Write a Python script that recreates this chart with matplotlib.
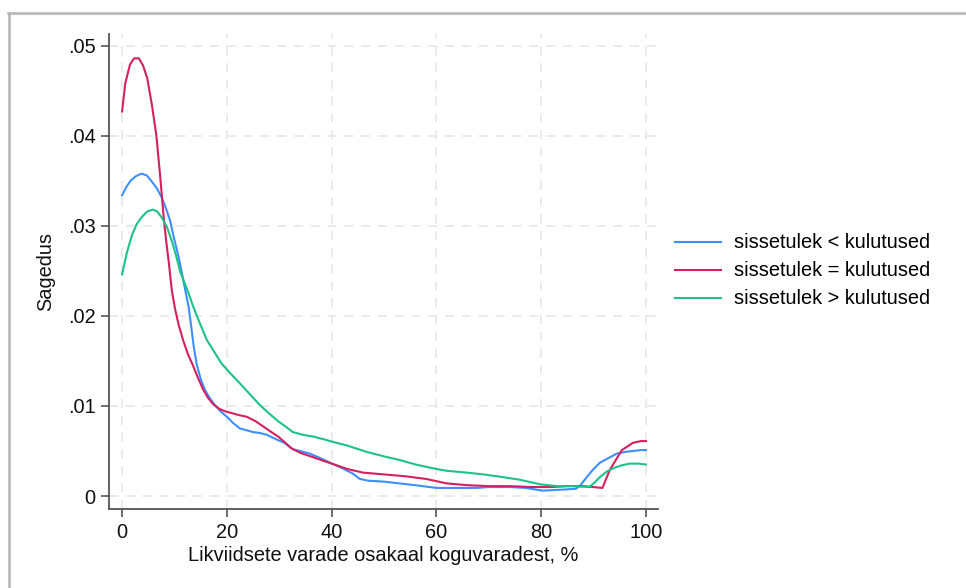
import matplotlib
matplotlib.use("Agg")
import matplotlib.pyplot as plt
from matplotlib.lines import Line2D

# ---- data ----
labels = ["sissetulek < kulutused", "sissetulek = kulutused", "sissetulek > kulutused"]

x_less = [0, 0.8, 1.6, 2.6, 3.7, 4.7, 5.7, 6.7, 7.6, 8.4,
          9.2, 9.8, 10.8, 11.4, 11.8, 12.7, 13.2, 13.7, 14.25, 15, 15.8,
          16.7, 17.7, 18.8, 20, 21.2, 22.5, 23.8, 25, 26.3, 27.6,
          29.8, 31, 32.6, 34, 35.9, 37.5, 39.7, 42, 44, 45.4,
          47, 50, 53, 56, 60, 64, 67.7, 70, 74, 77,
          80.3, 83.6, 86.6, 87.5, 88.7, 90, 91.2, 92.8, 94.4, 96,
          97.5, 99, 100]
y_less = [0.0334, 0.0343, 0.0350, 0.0355, 0.0358, 0.0356, 0.0349, 0.0341, 0.0331, 0.0319,
          0.0305, 0.0289, 0.0265, 0.0248, 0.0236, 0.0210, 0.0188, 0.0165, 0.0146, 0.0130, 0.0118,
          0.0109, 0.0101, 0.0094, 0.0088, 0.0081, 0.0075, 0.0073, 0.0071, 0.0070, 0.0068,
          0.0062, 0.0059, 0.0052, 0.0050, 0.0047, 0.0043, 0.0037, 0.0031, 0.0025, 0.0019,
          0.0017, 0.0016, 0.0014, 0.0012, 0.0009, 0.0009, 0.0009, 0.0010, 0.0010, 0.0009,
          0.0006, 0.0007, 0.0008, 0.0012, 0.0021, 0.0030, 0.0037, 0.0042, 0.0047, 0.0049,
          0.0050, 0.0051, 0.0051]

x_equal = [0, 0.6, 1.5, 2.3, 3.2, 4, 4.8, 5.7, 6.55, 7.3,
           7.95, 8.4, 8.9, 9.5, 10.1, 10.8, 11.7, 12.6, 13.6, 14.5,
           15.5, 16.4, 17.4, 18.5, 19.7, 21, 22.2, 23, 23.8, 25.5,
           27, 28.5, 29.8, 31, 32.3, 34, 36, 38, 40, 43,
           46, 50, 54, 58, 62, 66, 70, 74, 78, 82,
           85, 88, 91.7, 93.1, 95.4, 97.5, 99, 100]
y_equal = [0.0427, 0.0458, 0.0479, 0.0486, 0.0486, 0.0478, 0.0464, 0.0434, 0.0400, 0.0353,
           0.0309, 0.0284, 0.0260, 0.0228, 0.0208, 0.0190, 0.0172, 0.0157, 0.0144, 0.0131,
           0.0118, 0.0109, 0.0102, 0.0097, 0.0094, 0.0092, 0.0090, 0.0089, 0.0088, 0.0083,
           0.0077, 0.0071, 0.0066, 0.0060, 0.0053, 0.0048, 0.0044, 0.0040, 0.0036, 0.0030,
           0.0026, 0.0024, 0.0022, 0.0019, 0.0014, 0.0012, 0.0011, 0.0011, 0.0010, 0.0010,
           0.0011, 0.0011, 0.0009, 0.0029, 0.0051, 0.0059, 0.0061, 0.0061]

x_more = [0, 0.9, 1.9, 2.8, 3.8, 4.8, 5.85, 6.7, 7.6, 8.6,
          9.5, 10.3, 11.1, 11.7, 12.7, 13.6, 14.9, 16.2, 17.6, 19,
          20.7, 22.5, 24.4, 26.3, 28, 29.8, 31, 32.6, 34.5, 36.5,
          38.5, 40.3, 43, 46.7, 50, 53, 56, 60, 62, 65.8,
          69, 72.7, 76, 79.8, 83, 86, 89.2, 90.2, 91.2, 92.5,
          93.8, 95.3, 96.9, 98.5, 100]
y_more = [0.0246, 0.0270, 0.0290, 0.0302, 0.0310, 0.0316, 0.0318, 0.0316, 0.0309, 0.0298,
          0.0283, 0.0267, 0.0249, 0.0240, 0.0225, 0.0210, 0.0191, 0.0173, 0.0160, 0.0147,
          0.0136, 0.0125, 0.0113, 0.0101, 0.0092, 0.0083, 0.0078, 0.0071, 0.0068, 0.0066,
          0.0063, 0.0060, 0.0056, 0.0049, 0.0044, 0.0040, 0.0035, 0.0030, 0.0028, 0.0026,
          0.0024, 0.0021, 0.0018, 0.0013, 0.0011, 0.0011, 0.0010, 0.0015, 0.0021, 0.0027,
          0.0031, 0.0034, 0.0036, 0.0036, 0.0035]

x_ticks = [0, 20, 40, 60, 80, 100]
x_ticklabels = ["0", "20", "40", "60", "80", "100"]
y_ticks = [0, 0.01, 0.02, 0.03, 0.04, 0.05]
y_ticklabels = ["0", ".01", ".02", ".03", ".04", ".05"]

x_label = "Likviidsete varade osakaal koguvaradest, %"
y_label = "Sagedus"

colors = ["#3d8fff", "#d61f5f", "#1cc286"]

# ---- figure ----
plt.rcParams['font.family'] = ['Liberation Sans', 'DejaVu Sans']
FS = 14.4
W, H = 966, 588
fig = plt.figure(figsize=(W / 100, H / 100), dpi=100)
fig.patch.set_facecolor("white")

ax = fig.add_axes([109 / W, 1 - 509 / H, (658 - 109) / W, (509 - 34) / H])
for xs, ys, c, lab in zip([x_less, x_equal, x_more], [y_less, y_equal, y_more], colors, labels):
    ax.plot(xs, ys, color=c, lw=1.5, label=lab, solid_joinstyle="round")

ax.set_xlim(-2.5, 102.3)
ax.set_ylim(-0.00144, 0.0513)
ax.set_xticks(x_ticks)
ax.set_xticklabels(x_ticklabels)
ax.set_yticks(y_ticks)
ax.set_yticklabels(y_ticklabels)

for s in ["top", "right"]:
    ax.spines[s].set_visible(False)
for s in ["left", "bottom"]:
    ax.spines[s].set_color("#555555")
    ax.spines[s].set_linewidth(1.3)

ax.tick_params(axis="both", direction="out", length=6, width=1.2, color="#555555",
               labelsize=FS, labelcolor="#111111")
ax.tick_params(axis="y", pad=3.5)
ax.tick_params(axis="x", pad=4)
ax.grid(True, color="#e6e6e6", linestyle=(0, (6, 5)), linewidth=1.1)
ax.set_axisbelow(True)

ax.set_xlabel(x_label, fontsize=FS, color="#111111", labelpad=3)
ax.set_ylabel(y_label, fontsize=FS, color="#111111", labelpad=9)

handles = [Line2D([0], [0], color=c, lw=1.5) for c in colors]
fig.legend(handles, labels, loc="center left", bbox_to_anchor=(657 / W, 1 - 271 / H),
           frameon=False, fontsize=FS, handlelength=2.3, handletextpad=0.65,
           labelspacing=0.45)

# screenshot-like frame (top and left only)
fig.add_artist(Line2D([8 / W, 1.0], [1 - 12.5 / H, 1 - 12.5 / H], transform=fig.transFigure,
                      color="#b5b5b5", lw=1.8))
fig.add_artist(Line2D([8.5 / W, 8.5 / W], [0, 1 - 12.5 / H], transform=fig.transFigure,
                      color="#b5b5b5", lw=1.8))

fig.savefig("out.png", dpi=100, facecolor="white")
